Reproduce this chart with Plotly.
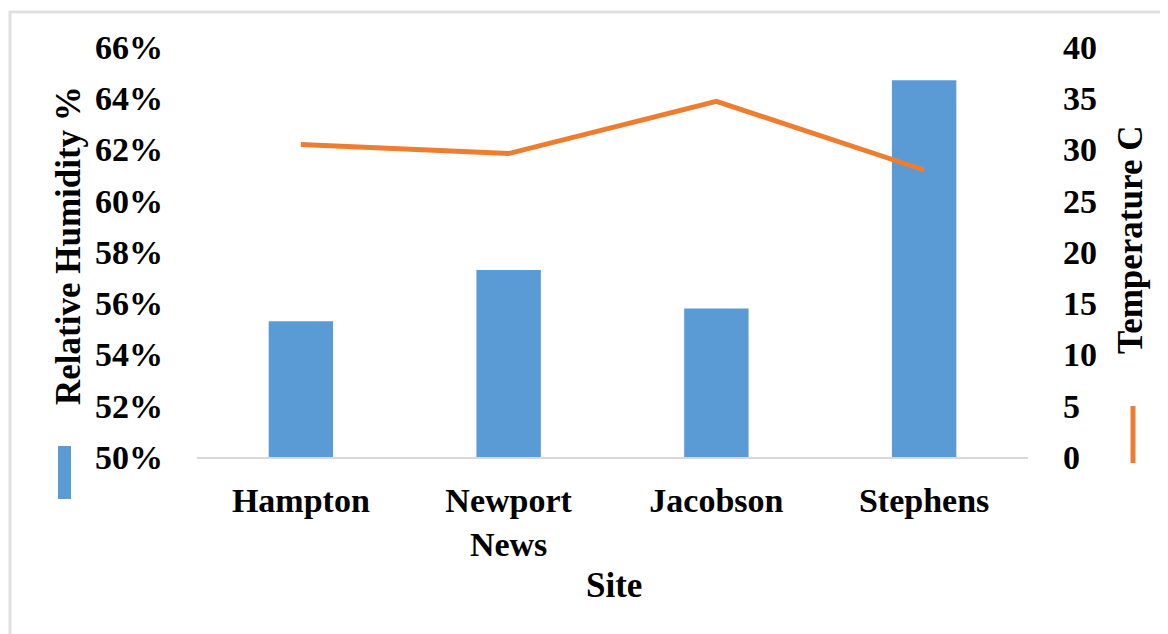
import plotly.graph_objects as go

sites = ["Hampton", "Newport<br>News", "Jacobson", "Stephens"]
humidity = [0.553, 0.573, 0.558, 0.647]
temperature = [30.5, 29.6, 34.7, 28.0]

W, H = 1168, 634
OFF = 8  # the page body margin shifts the figure by 8px
L, T = 197 - OFF, 47 - OFF
pw, ph = 831, 410
R, B = W - L - pw, H - T - ph


def px_x(x):
    return (x - OFF - L) / pw


def px_y(y):
    return (T + ph - (y - OFF)) / ph


serif = "Liberation Serif, Times New Roman, serif"
font = dict(family=serif, size=34, color="black")

fig = go.Figure()

fig.add_trace(go.Bar(
    x=sites, y=humidity, base=0,
    marker=dict(color="#5b9bd5", line=dict(width=0)),
    name="Relative Humidity %",
    yaxis="y",
))

fig.add_trace(go.Scatter(
    x=sites, y=temperature,
    mode="lines",
    line=dict(color="#ed7d31", width=5),
    name="Temperature C",
    yaxis="y2",
))

fig.update_layout(
    width=W, height=H,
    margin=dict(l=L, r=R, t=T, b=B),
    paper_bgcolor="white", plot_bgcolor="white",
    showlegend=False,
    bargap=0.69,
    font=font,
    xaxis=dict(
        showgrid=False, showline=True, linecolor="#d9d9d9", linewidth=1.5,
        ticks="", ticklabelstandoff=12,
    ),
    yaxis=dict(
        range=[0.50, 0.66], dtick=0.02, tickformat=".0%",
        showgrid=False, showline=False, zeroline=False, ticks="",
        ticklabelstandoff=33,
    ),
    yaxis2=dict(
        range=[0, 40], dtick=5, overlaying="y", side="right",
        showgrid=False, showline=False, zeroline=False, ticks="",
        ticklabelstandoff=34,
    ),
)

fig.update_xaxes(tickprefix="<b>", ticksuffix="</b>")
fig.update_yaxes(tickprefix="<b>", ticksuffix="</b>")

# axis titles placed as in the original
title_font = dict(family=serif, size=35, color="black")
for text, angle, x, y in [("Relative Humidity %", -90, 68, 246),
                          ("Temperature C", -90, 1130, 240),
                          ("Site", 0, 614, 585)]:
    fig.add_annotation(text="<b>" + text + "</b>", textangle=angle,
                       x=px_x(x), y=px_y(y), xref="paper", yref="paper",
                       xanchor="center", yanchor="middle",
                       showarrow=False, font=title_font)

# legend keys drawn next to the axis titles, and the light frame
fig.add_shape(type="rect", xref="paper", yref="paper",
              x0=px_x(58), x1=px_x(71), y0=px_y(499), y1=px_y(446),
              fillcolor="#5b9bd5", line=dict(width=0))
fig.add_shape(type="line", xref="paper", yref="paper",
              x0=px_x(1133), x1=px_x(1133), y0=px_y(463), y1=px_y(406),
              line=dict(color="#ed7d31", width=5))
fig.add_shape(type="rect", xref="paper", yref="paper",
              x0=px_x(10), x1=px_x(1200), y0=px_y(700), y1=px_y(12),
              line=dict(color="#e0e0e0", width=3), fillcolor="rgba(0,0,0,0)",
              layer="below")

fig.write_html("out.html")
